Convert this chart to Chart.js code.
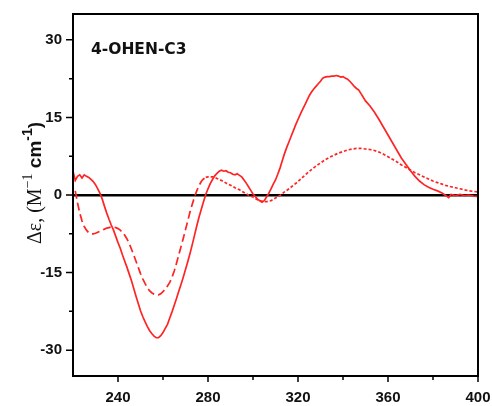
<!DOCTYPE html>
<html>
<head>
<meta charset="utf-8">
<script src="https://cdn.jsdelivr.net/npm/chart.js@4"></script>
<style>
  html, body { margin: 0; padding: 0; background: #fff; }
  #wrap { width: 492px; height: 406px; }
</style>
</head>
<body>
<div id="wrap"><canvas id="cd" width="492" height="406"></canvas></div>
<script>
// CD spectrum of 4-OHEN-C3: wavelength (nm) vs molar ellipticity difference
const solidWavelength = [
  220,221,222,223,224,225,226,227,228,229,230,231,232,233,234,235,236,237,238,239,
  240,241,242,243,244,245,246,247,248,249,250,251,252,253,254,255,256,257,258,259,
  260,261,262,263,264,265,266,267,268,269,270,271,272,273,274,275,276,277,278,279,
  280,281,282,283,284,285,286,287,288,289,290,291,292,293,294,295,296,297,298,299,
  300,301,302,303,304,305,306,307,308,309,310,311,312,313,314,315,316,317,318,319,
  320,321,322,323,324,325,326,327,328,329,330,331,332,333,334,335,336,337,338,339,
  340,341,342,343,344,345,346,347,348,349,350,352,354,356,358,360,362,364,366,368,
  370,372,374,376,378,380,382,384,386,387,388,390,392,394,396,398,400
];
const solidValues = [
  4.6,2.8,3.6,3.9,3.3,3.9,3.6,3.4,3.0,2.6,2.0,1.2,0.3,-0.8,-2.2,-3.5,-4.7,-5.8,-6.8,-8.0,
  -9.2,-10.3,-11.6,-12.8,-14.0,-15.3,-16.6,-18.1,-19.6,-21.0,-22.4,-23.5,-24.5,-25.4,-26.2,-26.8,-27.3,-27.6,-27.6,-27.2,
  -26.6,-25.8,-25.0,-23.8,-22.6,-21.3,-20.0,-18.6,-17.3,-15.9,-14.4,-12.9,-11.3,-9.6,-7.8,-6.0,-4.3,-2.8,-1.3,0.1,
  1.2,2.2,3.0,3.7,4.2,4.6,4.8,4.6,4.7,4.4,4.3,4.0,3.9,4.1,3.8,3.5,2.9,2.3,1.6,0.9,
  0.2,-0.3,-0.8,-1.1,-1.4,-1.1,-0.4,0.3,1.2,2.1,2.9,4.0,5.2,6.6,8.0,9.2,10.3,11.4,12.5,13.6,
  14.6,15.6,16.5,17.4,18.3,19.2,19.9,20.5,21.0,21.5,22.0,22.6,22.8,22.9,22.9,23.0,23.0,23.1,23.0,22.8,
  22.9,22.6,22.4,22.0,21.5,21.0,20.6,20.3,19.6,18.9,18.2,17.2,16.0,14.6,13.1,11.6,10.1,8.6,7.1,5.9,
  4.7,3.6,2.7,2.0,1.5,1.1,0.8,0.4,-0.2,-0.5,0.1,-0.1,0.1,-0.1,0.0,-0.2,-0.3
];

const dashedWavelength = [
  221,222,223,224,225,226,227,228,229,230,231,232,233,234,235,236,237,238,239,
  240,241,242,243,244,245,246,247,248,249,250,251,252,253,254,255,256,257,258,259,
  260,261,262,263,264,265,266,267,268,269,270,271,272,273,274,275,276,277,278,279,
  280,281,282,283,284,285,286,287,288,290,292,294,296,298,300,302,304,306,308,310,
  312,314,316,318,320,322,324,326,328,330,332,334,336,338,340,342,344,346,348,350,
  352,354,356,358,360,362,364,366,368,370,372,374,376,378,380,382,384,386,388,390,
  392,394,396,398,400
];
const dashedValues = [
  0.8,-1.5,-3.5,-5.0,-6.1,-6.8,-7.3,-7.5,-7.5,-7.4,-7.2,-7.0,-6.8,-6.6,-6.4,-6.3,-6.2,-6.2,-6.3,
  -6.5,-6.8,-7.2,-7.8,-8.5,-9.4,-10.5,-11.6,-12.8,-14.0,-15.2,-16.2,-17.1,-17.9,-18.5,-18.9,-19.2,-19.3,-19.3,-19.1,
  -18.7,-18.2,-17.6,-16.9,-15.9,-14.7,-13.2,-11.6,-10.0,-8.4,-6.7,-5.0,-3.3,-1.8,-0.4,0.8,1.8,2.6,3.1,3.4,
  3.5,3.5,3.5,3.4,3.2,3.0,2.8,2.6,2.3,1.9,1.4,1.0,0.5,0.0,-0.4,-0.9,-1.2,-1.3,-1.1,-0.6,
  -0.1,0.6,1.2,1.9,2.6,3.4,4.2,4.9,5.6,6.2,6.8,7.3,7.7,8.1,8.4,8.7,8.9,9.0,9.0,8.9,
  8.8,8.6,8.3,7.9,7.4,6.9,6.4,5.8,5.3,4.8,4.3,3.9,3.5,3.1,2.7,2.4,2.1,1.8,1.6,1.4,
  1.2,1.0,0.8,0.7,0.6
];

// axis ticks: labelled majors and unlabelled minors
const xMajorTicks = [240, 280, 320, 360, 400];
const xMinorTicks = [260, 300, 340, 380];
const yMajorTicks = [-30, -15, 0, 15, 30];
const yMinorTicks = [-22.5, -7.5, 7.5, 22.5];

const panelTitle = '4-OHEN-C3';
const RED = 'rgb(255,36,36)';

function toPoints(xs, ys) {
  return xs.map((x, i) => ({ x: x, y: ys[i] }));
}

// frame, outward tick marks, panel title and y-axis title
const decorations = {
  id: 'decorations',
  afterDraw(chart) {
    const { ctx, chartArea: a, scales } = chart;
    ctx.save();
    ctx.strokeStyle = '#000';
    ctx.lineWidth = 2;
    ctx.strokeRect(a.left, a.top, a.right - a.left, a.bottom - a.top);

    ctx.lineWidth = 1.5;
    ctx.beginPath();
    xMajorTicks.forEach(v => { const p = scales.x.getPixelForValue(v); ctx.moveTo(p, a.bottom); ctx.lineTo(p, a.bottom + 6); });
    xMinorTicks.forEach(v => { const p = scales.x.getPixelForValue(v); ctx.moveTo(p, a.bottom); ctx.lineTo(p, a.bottom + 4); });
    yMajorTicks.forEach(v => { const p = scales.y.getPixelForValue(v); ctx.moveTo(a.left, p); ctx.lineTo(a.left - 7, p); });
    yMinorTicks.forEach(v => { const p = scales.y.getPixelForValue(v); ctx.moveTo(a.left, p); ctx.lineTo(a.left - 4, p); });
    ctx.stroke();

    // panel title
    ctx.fillStyle = '#111';
    ctx.font = 'bold 15.5px "DejaVu Sans"';
    ctx.textBaseline = 'alphabetic';
    ctx.textAlign = 'left';
    ctx.fillText(panelTitle, a.left + 18, a.top + 39.5);

    // y-axis title: Δε, (M⁻¹ cm⁻¹)
    const parts = [
      { t: 'Δε, (M', f: '20px "Liberation Serif"', dy: 0 },
      { t: '−1', f: '14px "Liberation Serif"', dy: -9 },
      { t: ' cm', f: 'bold 19px "Liberation Sans"', dy: 0 },
      { t: '-1', f: 'bold 14px "Liberation Sans"', dy: -9 },
      { t: ')', f: 'bold 19px "Liberation Sans"', dy: 0 }
    ];
    let total = 0;
    parts.forEach(p => { ctx.font = p.f; p.w = ctx.measureText(p.t).width; total += p.w; });
    const cy = 183;
    ctx.translate(41, cy + total / 2);
    ctx.rotate(-Math.PI / 2);
    let xp = 0;
    parts.forEach(p => { ctx.font = p.f; ctx.fillText(p.t, xp, p.dy); xp += p.w; });
    ctx.restore();
  }
};

new Chart(document.getElementById('cd'), {
  type: 'line',
  data: {
    datasets: [
      {
        label: 'solid',
        data: toPoints(solidWavelength, solidValues),
        borderColor: RED,
        borderWidth: 1.7,
        pointRadius: 0,
        tension: 0
      },
      {
        label: 'dashed',
        data: toPoints(dashedWavelength, dashedValues),
        borderColor: RED,
        borderWidth: 1.7,
        pointRadius: 0,
        tension: 0,
        segment: {
          borderDash: c => (c.p0.parsed.x < 279 ? [8, 4] : [3, 2])
        }
      }
    ]
  },
  options: {
    responsive: false,
    animation: false,
    devicePixelRatio: 1,
    layout: { padding: { top: 14, right: 14, left: 0, bottom: 0 } },
    plugins: { legend: { display: false }, tooltip: { enabled: false } },
    scales: {
      x: {
        type: 'linear',
        min: 220,
        max: 400,
        afterBuildTicks: s => { s.ticks = xMajorTicks.map(v => ({ value: v })); },
        afterFit: s => { s.height = 30; s.paddingLeft = 0; s.paddingRight = 0; },
        grid: { display: false },
        border: { display: false },
        ticks: {
          padding: 5,
          color: '#111',
          font: { family: '"Liberation Sans"', size: 15, weight: 'bold' },
          callback: v => String(v),
          maxRotation: 0
        }
      },
      y: {
        min: -35,
        max: 35,
        afterBuildTicks: s => { s.ticks = yMajorTicks.map(v => ({ value: v })); },
        afterFit: s => { s.width = 73; s.paddingTop = 0; s.paddingBottom = 0; },
        grid: {
          drawTicks: false,
          color: c => (c.tick && c.tick.value === 0 ? '#000' : 'rgba(0,0,0,0)'),
          lineWidth: c => (c.tick && c.tick.value === 0 ? 2.5 : 0)
        },
        border: { display: false },
        ticks: {
          padding: 11,
          color: '#111',
          font: { family: '"Liberation Sans"', size: 15, weight: 'bold' },
          callback: v => String(v)
        }
      }
    }
  },
  plugins: [decorations]
});
</script>
</body>
</html>
